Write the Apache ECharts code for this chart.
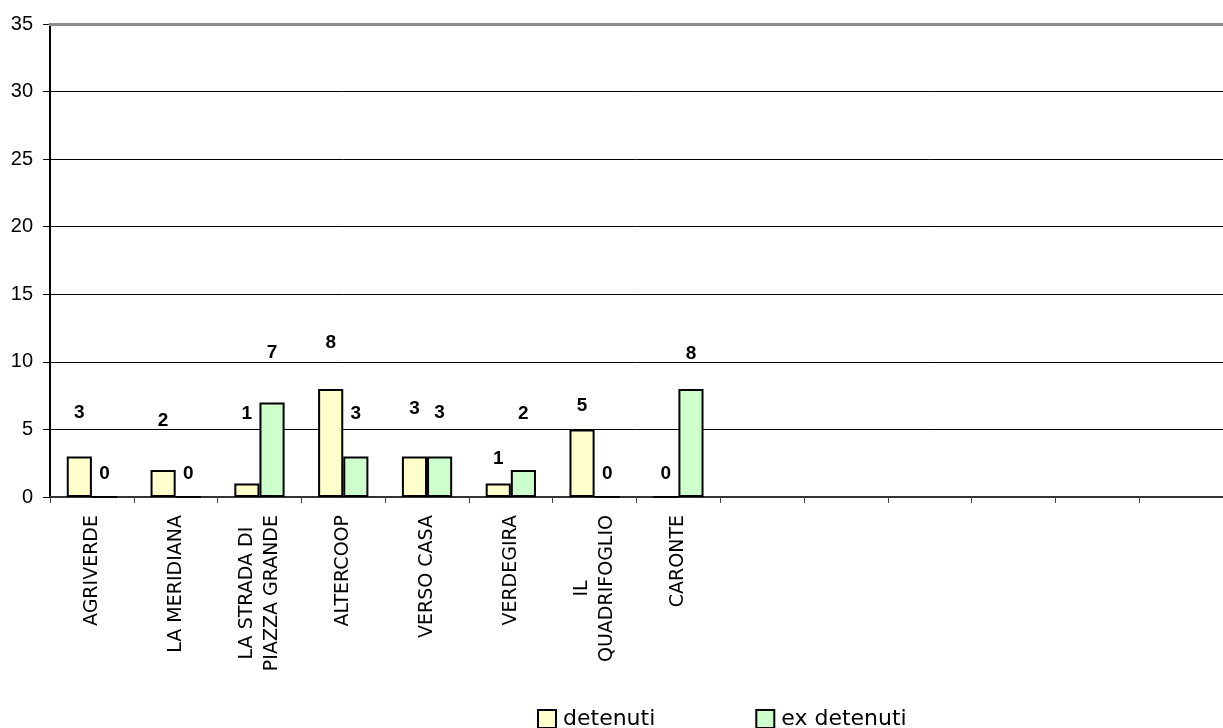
<!DOCTYPE html>
<html>
<head>
<meta charset="utf-8">
<script src="https://cdn.jsdelivr.net/npm/echarts@6/dist/echarts.min.js"></script>
<style>
  html, body { margin: 0; padding: 0; background: #fff; }
  #chart { width: 1223px; height: 728px; }
</style>
</head>
<body>
<div id="chart"></div>
<script>
// ---- data ----
const categories = [
  'AGRIVERDE', 'LA MERIDIANA', 'LA STRADA DI\nPIAZZA GRANDE', 'ALTERCOOP',
  'VERSO CASA', 'VERDEGIRA', 'IL\nQUADRIFOGLIO', 'CARONTE',
  '', '', '', '', '', ''
];
const seriesNames = ['detenuti', 'ex detenuti'];
const detenuti   = [3, 2, 1, 8, 3, 1, 5, 0, null, null, null, null, null, null];
const exDetenuti = [0, 0, 7, 3, 3, 2, 0, 8, null, null, null, null, null, null];
const yTicks = { min: 0, max: 35, interval: 5 };

// ---- styling (label offsets above each bar, px) ----
const labelLiftDet = [34, 40, 60, 37, 38, 15, 14, 13];
const labelLiftEx  = [13, 13, 40, 33, 34, 47, 13, 26];

function withLabels(values, lifts) {
  return values.map((v, i) => {
    if (v === null) return { value: null };
    return { value: v, label: { distance: lifts[i] } };
  });
}

const catFont = '"DejaVu Sans", sans-serif';
const numFont = '"Liberation Sans", Arial, sans-serif';

const chart = echarts.init(document.getElementById('chart'), null, { renderer: 'canvas' });

const labelCommon = {
  show: true,
  position: 'top',
  fontFamily: numFont,
  fontWeight: 'bold',
  fontSize: 19,
  color: '#000'
};

chart.setOption({
  animation: false,
  backgroundColor: '#fff',
  grid: { left: 50, width: 1182, top: 24, bottom: 231, containLabel: false },
  legend: {
    data: seriesNames,
    left: 532,
    top: 703,
    itemWidth: 18,
    itemHeight: 18,
    itemGap: 100,
    icon: 'rect',
    itemStyle: { borderColor: '#000', borderWidth: 2 },
    textStyle: { fontFamily: catFont, fontSize: 22, color: '#000', padding: [0, 0, 0, 2] }
  },
  xAxis: [
    {
      type: 'category',
      data: categories,
      position: 'bottom',
      axisLine: { lineStyle: { color: '#333', width: 2 } },
      axisTick: { show: true, length: 6, lineStyle: { color: '#444', width: 1 } },
      axisLabel: {
        rotate: 90,
        margin: 18,
        interval: 0,
        formatter: v => v.split('\n').map(l => '{c|' + l + '}').join('\n'),
        rich: {
          c: { align: 'center', fontFamily: catFont, fontSize: 19, color: '#000', lineHeight: 25 }
        }
      },
      splitLine: { show: false }
    },
    {
      type: 'category',
      data: categories,
      position: 'top',
      z: 5,
      axisLine: { show: true, lineStyle: { color: '#8c8c8c', width: 3 } },
      axisTick: { show: false },
      axisLabel: { show: false },
      splitLine: { show: false }
    }
  ],
  yAxis: {
    type: 'value',
    min: yTicks.min,
    max: yTicks.max,
    interval: yTicks.interval,
    axisLine: { show: true, lineStyle: { color: '#000', width: 2 } },
    axisTick: { show: true, length: 7, lineStyle: { color: '#000', width: 1 } },
    axisLabel: { margin: 17, fontFamily: numFont, fontSize: 20, color: '#000' },
    splitLine: { show: true, lineStyle: { color: '#000', width: 1 } }
  },
  series: [
    {
      name: seriesNames[0],
      type: 'bar',
      data: withLabels(detenuti, labelLiftDet),
      barGap: '0%',
      barCategoryGap: '40%',
      itemStyle: { color: '#FFFFCC', borderColor: '#000', borderWidth: 2 },
      label: labelCommon
    },
    {
      name: seriesNames[1],
      type: 'bar',
      data: withLabels(exDetenuti, labelLiftEx),
      barGap: '0%',
      barCategoryGap: '40%',
      itemStyle: { color: '#CCFFCC', borderColor: '#000', borderWidth: 2 },
      label: labelCommon
    }
  ]
});
</script>
</body>
</html>
